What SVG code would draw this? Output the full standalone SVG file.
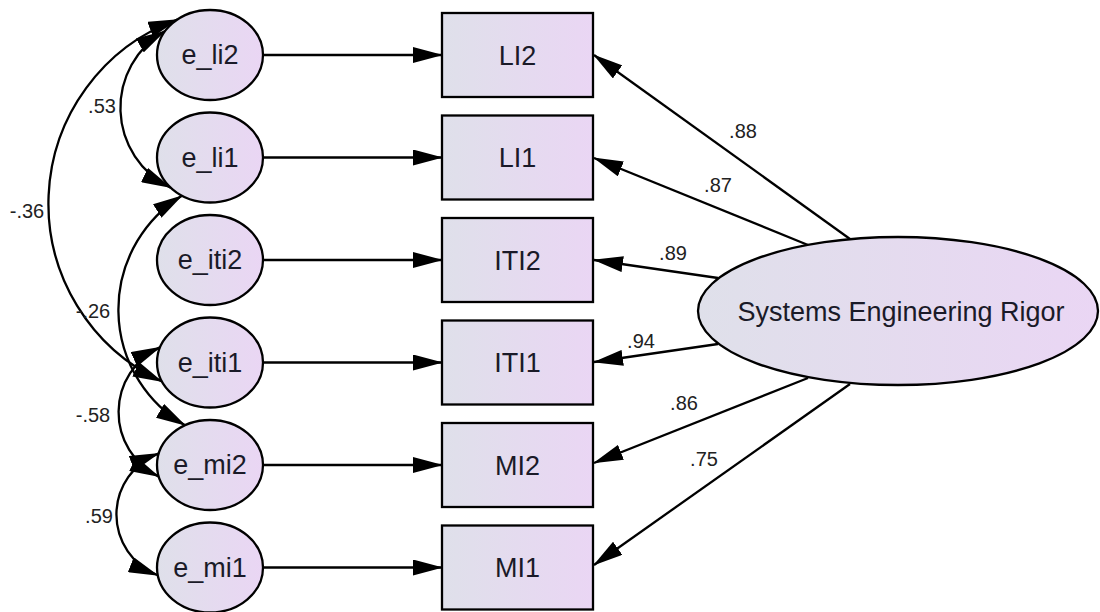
<svg xmlns="http://www.w3.org/2000/svg" width="1100" height="612" viewBox="0 0 1100 612">
<defs>
<linearGradient id="g" x1="0" y1="0" x2="1" y2="0">
<stop offset="0" stop-color="#dfe0ea"/>
<stop offset="1" stop-color="#ead6f4"/>
</linearGradient>
<marker id="ah" markerUnits="userSpaceOnUse" markerWidth="30" markerHeight="16" viewBox="0 0 30 16" refX="29" refY="8" orient="auto-start-reverse">
<path d="M0,0 L30,8 L0,16 z" fill="#000"/>
</marker>
</defs>
<style>
.n{fill:url(#g);stroke:#000;stroke-width:2.3}
.t{font-family:"Liberation Sans",Arial,sans-serif;font-size:27px;fill:#1a1a28;text-anchor:middle}
.l{font-family:"Liberation Sans",Arial,sans-serif;font-size:20px;fill:#222;text-anchor:middle}
.a{fill:none;stroke:#000;stroke-width:2.3;marker-end:url(#ah)}
.b{fill:none;stroke:#000;stroke-width:2.3;marker-start:url(#ah);marker-end:url(#ah)}
</style>
<rect width="1100" height="612" fill="#fff"/>
<g id="connectors">
<line class="a" x1="263" y1="55" x2="442" y2="55"/>
<line class="a" x1="263" y1="157.5" x2="442" y2="157.5"/>
<line class="a" x1="263" y1="260" x2="442" y2="260"/>
<line class="a" x1="263" y1="362.5" x2="442" y2="362.5"/>
<line class="a" x1="263" y1="465" x2="442" y2="465"/>
<line class="a" x1="263" y1="567.5" x2="442" y2="567.5"/>
<line class="a" x1="850" y1="239" x2="594" y2="55"/>
<line class="a" x1="808" y1="245" x2="594" y2="158"/>
<line class="a" x1="718" y1="278" x2="594" y2="260"/>
<line class="a" x1="718" y1="344" x2="594" y2="362"/>
<line class="a" x1="808" y1="378" x2="594" y2="463"/>
<line class="a" x1="850" y1="384" x2="594" y2="565"/>
<path class="b" d="M165,31 A88.5,88.5 0 0 0 170.6,187.6"/>
<path class="b" d="M177.4,19.5 A196,196 0 0 0 162,381.5"/>
<path class="b" d="M181.9,195.7 A133.8,133.8 0 0 0 185.1,425.3"/>
<path class="b" d="M160.2,347.1 A71.7,71.7 0 0 0 158.8,476.6"/>
<path class="b" d="M158.8,453.4 A65.3,65.3 0 0 0 157.8,575.3"/>
</g>
<g id="labels">
<text class="l" x="743" y="138">.88</text>
<text class="l" x="718" y="192">.87</text>
<text class="l" x="673" y="260">.89</text>
<text class="l" x="641" y="348">.94</text>
<text class="l" x="684" y="410">.86</text>
<text class="l" x="704" y="466">.75</text>
<text class="l" x="102" y="113">.53</text>
<text class="l" x="27" y="218">-.36</text>
<text class="l" x="93" y="318">-.26</text>
<text class="l" x="93" y="422">-.58</text>
<text class="l" x="99" y="523">.59</text>
</g>
<g id="e_li2"><ellipse class="n" cx="210" cy="55" rx="53" ry="45"/><text class="t" x="210" y="64">e_li2</text></g>
<g id="e_li1"><ellipse class="n" cx="210" cy="157.5" rx="53" ry="45"/><text class="t" x="210" y="166.5">e_li1</text></g>
<g id="e_iti2"><ellipse class="n" cx="210" cy="260" rx="53" ry="45"/><text class="t" x="210" y="269">e_iti2</text></g>
<g id="e_iti1"><ellipse class="n" cx="210" cy="362.5" rx="53" ry="45"/><text class="t" x="210" y="371.5">e_iti1</text></g>
<g id="e_mi2"><ellipse class="n" cx="210" cy="465" rx="53" ry="45"/><text class="t" x="210" y="474">e_mi2</text></g>
<g id="e_mi1"><ellipse class="n" cx="210" cy="567.5" rx="53" ry="45"/><text class="t" x="210" y="576.5">e_mi1</text></g>
<g id="LI2"><rect class="n" x="442" y="13" width="151" height="84"/><text class="t" x="517.5" y="64.5">LI2</text></g>
<g id="LI1"><rect class="n" x="442" y="115.5" width="151" height="84"/><text class="t" x="517.5" y="167">LI1</text></g>
<g id="ITI2"><rect class="n" x="442" y="218" width="151" height="84"/><text class="t" x="517.5" y="269.5">ITI2</text></g>
<g id="ITI1"><rect class="n" x="442" y="320.5" width="151" height="84"/><text class="t" x="517.5" y="372">ITI1</text></g>
<g id="MI2"><rect class="n" x="442" y="423" width="151" height="84"/><text class="t" x="517.5" y="474.5">MI2</text></g>
<g id="MI1"><rect class="n" x="442" y="525.5" width="151" height="84"/><text class="t" x="517.5" y="577">MI1</text></g>
<g id="SER"><ellipse class="n" cx="898" cy="311" rx="200" ry="74"/><text class="t" x="901" y="321">Systems Engineering Rigor</text></g>
</svg>
